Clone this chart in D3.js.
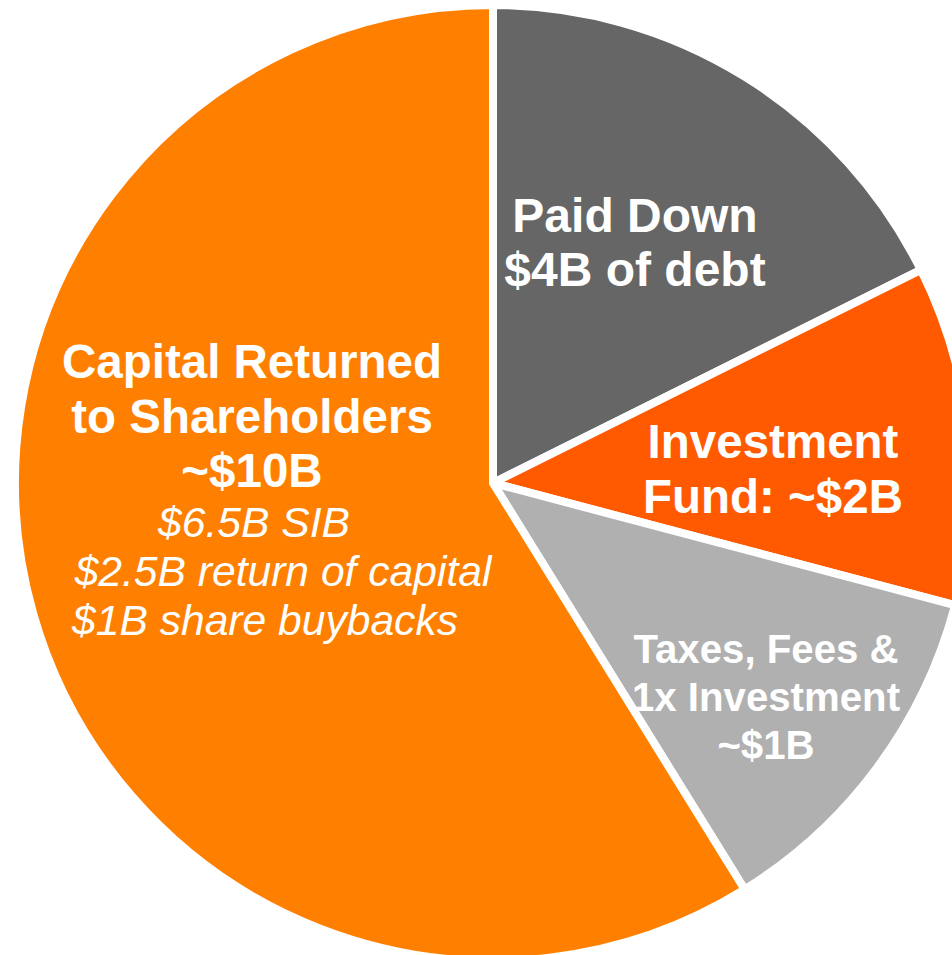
<!DOCTYPE html>
<html>
<head>
<meta charset="utf-8">
<script src="https://cdn.jsdelivr.net/npm/d3@7"></script>
<style>
  body { margin: 0; background: #fff; }
  svg text { font-family: "Liberation Sans", Arial, sans-serif; fill: #fff; }
</style>
</head>
<body>
<div id="chart"></div>
<script>
// slice sizes (angles), in $B-ish units
const categories = ["Paid Down", "Investment Fund", "Taxes, Fees & 1x Investment", "Capital Returned"];
const values = [3, 1.95, 2.05, 10];
const colors = ["#666666", "#ff5a00", "#b0b0b0", "#ff8000"];

// label text, one list of lines per slice
const labelLines = [
    ["Paid Down", "$4B of debt"],
    ["Investment", "Fund: ~$2B"],
    ["Taxes, Fees &", "1x Investment", "~$1B"],
    ["Capital Returned", "to Shareholders", "~$10B"]
];
const detailLines = ["$6.5B SIB", "$2.5B return of capital", "$1B share buybacks"];

const width = 952, height = 955;
const cx = 493, cy = 483, radius = 478;

const svg = d3.select("#chart")
    .append("svg")
    .attr("width", width)
    .attr("height", height);

const g = svg.append("g")
    .attr("transform", "translate(" + cx + "," + cy + ")");

const pie = d3.pie().sort(null).value(d => d);
const arc = d3.arc().innerRadius(0).outerRadius(radius);

g.selectAll("path")
    .data(pie(values))
    .enter()
    .append("path")
    .attr("d", arc)
    .attr("fill", (d, i) => colors[i])
    .attr("stroke", "#fff")
    .attr("stroke-width", 8)
    .attr("stroke-linejoin", "miter");

// label layout: centre x and first baseline relative to pie centre
const labelPos = [
    {x: 142, y: -251, size: 48, lead: 54},
    {x: 280, y: -25, size: 47.5, lead: 55},
    {x: 273, y: 180, size: 40.2, lead: 48},
    {x: -241, y: -105, size: 47.5, lead: 54.5}
];

labelLines.forEach((lines, i) => {
    const p = labelPos[i];
    g.append("g")
        .selectAll("text")
        .data(lines)
        .enter()
        .append("text")
        .attr("x", p.x)
        .attr("y", (d, j) => p.y + j * p.lead)
        .attr("text-anchor", "middle")
        .attr("font-weight", "bold")
        .attr("font-size", p.size)
        .text(d => d);
});

// italic breakdown under capital returned
const detailX = [-239, -210, -228];
g.append("g")
    .selectAll("text")
    .data(detailLines)
    .enter()
    .append("text")
    .attr("x", (d, i) => detailX[i])
    .attr("y", (d, i) => 54 + i * 49)
    .attr("text-anchor", "middle")
    .attr("font-style", "italic")
    .attr("font-size", 42.6)
    .text(d => d);
</script>
</body>
</html>
